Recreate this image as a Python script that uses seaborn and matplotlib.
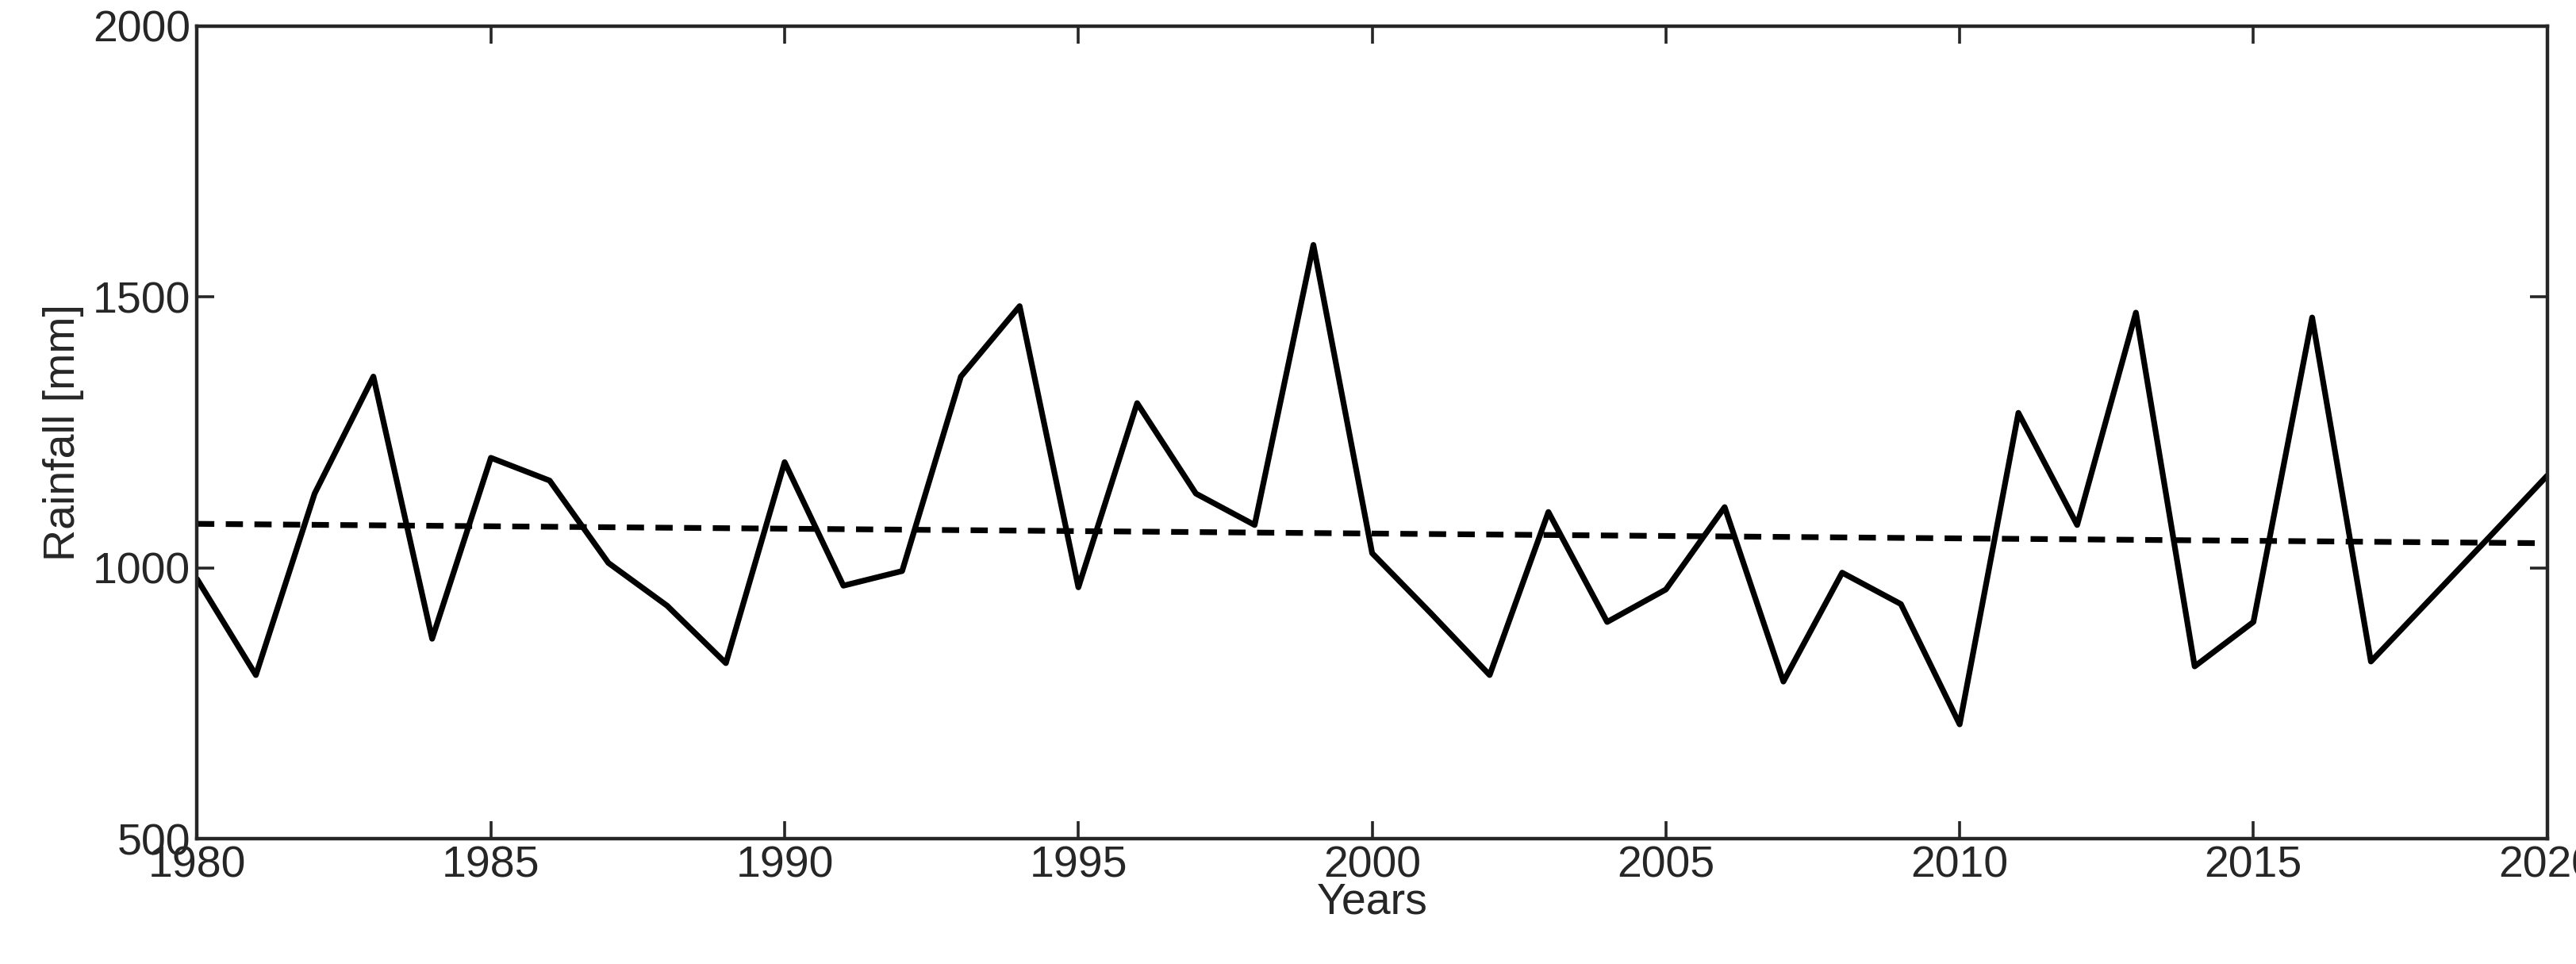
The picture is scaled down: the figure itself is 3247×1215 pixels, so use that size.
import numpy as np
import pandas as pd
import matplotlib
matplotlib.use("Agg")
import matplotlib.pyplot as plt
import seaborn as sns

years = list(range(1980, 2021))
rainfall = [979, 802, 1137, 1353, 869, 1203, 1161, 1009, 930, 824,
            1195, 967, 994, 1353, 1483, 964, 1304, 1137, 1079, 1596,
            1027, 916, 802, 1103, 900, 960, 1112, 790, 991, 933,
            711, 1286, 1079, 1471, 818, 900, 1462, 827, 941, 1055,
            1170]

sns.set_style("ticks")
plt.rcParams['font.family'] = ['Liberation Sans', 'DejaVu Sans']

df = pd.DataFrame({"Years": years, "Rainfall": rainfall})
slope, intercept = np.polyfit(df["Years"], df["Rainfall"], 1)
df["Trend"] = slope * df["Years"] + intercept

fig = plt.figure(figsize=(16.24, 6.075), dpi=200)
ax = fig.add_axes([0.0765, 0.130, 0.912, 0.843])
sns.lineplot(data=df, x="Years", y="Rainfall", color="black", linewidth=2.6, ax=ax)
sns.lineplot(data=df, x="Years", y="Trend", color="black", linewidth=2.6,
             linestyle=(0, (3, 2)), ax=ax)

ax.set_xlim(1980, 2020)
ax.set_ylim(500, 2000)
ax.set_xticks(range(1980, 2021, 5))
ax.set_yticks([500, 1000, 1500, 2000])
ax.set_xlabel("Years", fontsize=20, labelpad=-2)
ax.set_ylabel("Rainfall [mm]", fontsize=20, labelpad=4)
ax.tick_params(direction="in", labelsize=20, length=8, width=1.3,
               top=True, right=True, pad=3)
for s in ax.spines.values():
    s.set_linewidth(1.6)

fig.savefig("out.png", dpi=200)
